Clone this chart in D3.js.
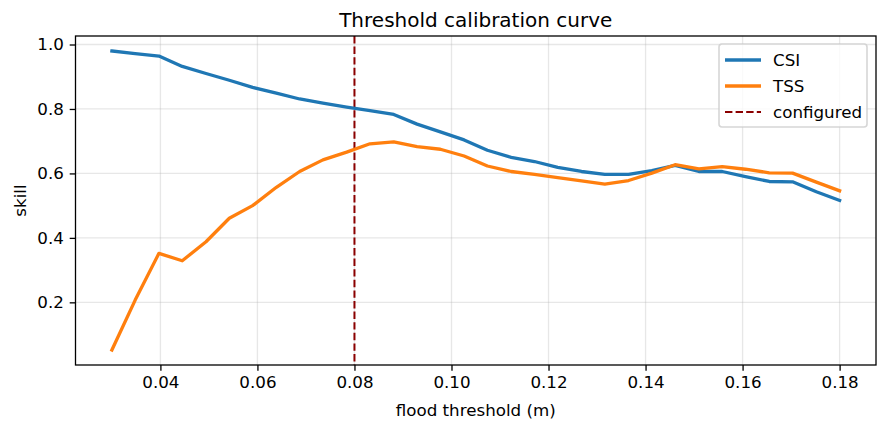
<!DOCTYPE html>
<html>
<head>
<meta charset="utf-8">
<script src="https://cdn.jsdelivr.net/npm/d3@7"></script>
<style>
  body { margin: 0; background: #fff; }
  svg { display: block; font-family: "DejaVu Sans", sans-serif; }
</style>
</head>
<body>
<svg width="887" height="431"></svg>
<script>
(function () {
  // flood thresholds tested (m)
  const thresholds = [0.03, 0.0348, 0.0397, 0.0445, 0.0494, 0.0542, 0.0590, 0.0639,
    0.0687, 0.0735, 0.0784, 0.0832, 0.0881, 0.0929, 0.0977, 0.1026,
    0.1074, 0.1123, 0.1171, 0.1219, 0.1268, 0.1316, 0.1365, 0.1413,
    0.1461, 0.1510, 0.1558, 0.1606, 0.1655, 0.1703, 0.1752, 0.18];
  const csi = [0.980, 0.972, 0.964, 0.932, 0.910, 0.889, 0.867, 0.849,
    0.831, 0.818, 0.806, 0.795, 0.783, 0.753, 0.729, 0.704,
    0.672, 0.650, 0.637, 0.619, 0.606, 0.597, 0.597, 0.609,
    0.625, 0.606, 0.606, 0.590, 0.575, 0.574, 0.543, 0.516];
  const tss = [0.052, 0.207, 0.352, 0.329, 0.388, 0.461, 0.500, 0.557,
    0.606, 0.642, 0.666, 0.692, 0.698, 0.683, 0.675, 0.654,
    0.623, 0.606, 0.597, 0.587, 0.577, 0.567, 0.578, 0.601,
    0.627, 0.614, 0.621, 0.613, 0.602, 0.601, 0.573, 0.546];
  const configured = 0.08;
  const xTicks = [0.04, 0.06, 0.08, 0.10, 0.12, 0.14, 0.16, 0.18];
  const yTicks = [0.2, 0.4, 0.6, 0.8, 1.0];

  const series = [
    { name: "CSI", values: csi, color: "#1f77b4" },
    { name: "TSS", values: tss, color: "#ff7f0e" }
  ];

  const left = 75.5, right = 876, top = 36, bottom = 365;
  const svg = d3.select("svg");

  // matplotlib-style 5% margins
  const xr = d3.extent(thresholds), xpad = (xr[1] - xr[0]) * 0.05;
  const allY = csi.concat(tss);
  const yr = d3.extent(allY), ypad = (yr[1] - yr[0]) * 0.05;

  const x = d3.scaleLinear().domain([xr[0] - xpad, xr[1] + xpad]).range([left, right]);
  const y = d3.scaleLinear().domain([yr[0] - ypad, yr[1] + ypad]).range([bottom, top]);

  // grid
  const grid = svg.append("g");
  grid.selectAll(".gx").data(xTicks).enter().append("line")
    .attr("x1", d => x(d)).attr("x2", d => x(d))
    .attr("y1", top).attr("y2", bottom)
    .attr("stroke", "#b0b0b0").attr("stroke-opacity", 0.3).attr("stroke-width", 1.3);
  grid.selectAll(".gy").data(yTicks).enter().append("line")
    .attr("y1", d => y(d)).attr("y2", d => y(d))
    .attr("x1", left).attr("x2", right)
    .attr("stroke", "#b0b0b0").attr("stroke-opacity", 0.3).attr("stroke-width", 1.3);

  // configured threshold
  svg.append("line")
    .attr("x1", x(configured)).attr("x2", x(configured))
    .attr("y1", top).attr("y2", bottom)
    .attr("stroke", "#8b0000").attr("stroke-width", 2)
    .attr("stroke-dasharray", "7.4,3.2");

  // lines
  const line = d3.line().x((d, i) => x(thresholds[i])).y(d => y(d));
  svg.selectAll(".series").data(series).enter().append("path")
    .attr("d", d => line(d.values))
    .attr("fill", "none")
    .attr("stroke", d => d.color)
    .attr("stroke-width", 3.3)
    .attr("stroke-linejoin", "round")
    .attr("stroke-linecap", "square");

  // axes
  const xAxis = svg.append("g")
    .attr("transform", `translate(0,${bottom})`)
    .call(d3.axisBottom(x).tickValues(xTicks).tickFormat(d3.format(".2f")).tickSizeOuter(0).tickSize(5.8).tickPadding(5.8));
  const yAxis = svg.append("g")
    .attr("transform", `translate(${left},0)`)
    .call(d3.axisLeft(y).tickValues(yTicks).tickFormat(d3.format(".1f")).tickSizeOuter(0).tickSize(5.8).tickPadding(5.8));
  [xAxis, yAxis].forEach(g => {
    g.select(".domain").remove();
    g.selectAll("line").attr("stroke", "#000").attr("stroke-width", 1.3);
    g.selectAll("text").attr("fill", "#000")
      .style("font-family", "DejaVu Sans").style("font-size", "16.7px");
  });

  // frame
  svg.append("rect")
    .attr("x", left).attr("y", top)
    .attr("width", right - left).attr("height", bottom - top)
    .attr("fill", "none").attr("stroke", "#000").attr("stroke-width", 1.3);

  // labels
  svg.append("text")
    .attr("x", (left + right) / 2).attr("y", 27)
    .attr("text-anchor", "middle")
    .style("font-size", "20px")
    .text("Threshold calibration curve");

  svg.append("text")
    .attr("x", (left + right) / 2).attr("y", 416)
    .attr("text-anchor", "middle")
    .style("font-size", "16.7px")
    .text("flood threshold (m)");

  svg.append("text")
    .attr("transform", `translate(26,${(top + bottom) / 2}) rotate(-90)`)
    .attr("text-anchor", "middle")
    .style("font-size", "16.7px")
    .text("skill");

  // legend
  const lg = svg.append("g").attr("transform", "translate(719,44)");
  lg.append("rect")
    .attr("width", 148).attr("height", 83).attr("rx", 3)
    .attr("fill", "#fff").attr("fill-opacity", 0.8)
    .attr("stroke", "#cccccc").attr("stroke-opacity", 0.8).attr("stroke-width", 1.6);
  const entries = [
    { name: "CSI", color: "#1f77b4", dash: null, w: 3.3 },
    { name: "TSS", color: "#ff7f0e", dash: null, w: 3.3 },
    { name: "configured", color: "#8b0000", dash: "7.4,3.2", w: 2 }
  ];
  const row = lg.selectAll(".row").data(entries).enter().append("g")
    .attr("transform", (d, i) => `translate(0,${16 + i * 26})`);
  row.append("line")
    .attr("x1", 6).attr("x2", 42)
    .attr("stroke", d => d.color).attr("stroke-width", d => d.w)
    .attr("stroke-dasharray", d => d.dash);
  row.append("text")
    .attr("x", 54).attr("dy", "0.35em")
    .style("font-size", "16.7px")
    .text(d => d.name);
})();
</script>
</body>
</html>
